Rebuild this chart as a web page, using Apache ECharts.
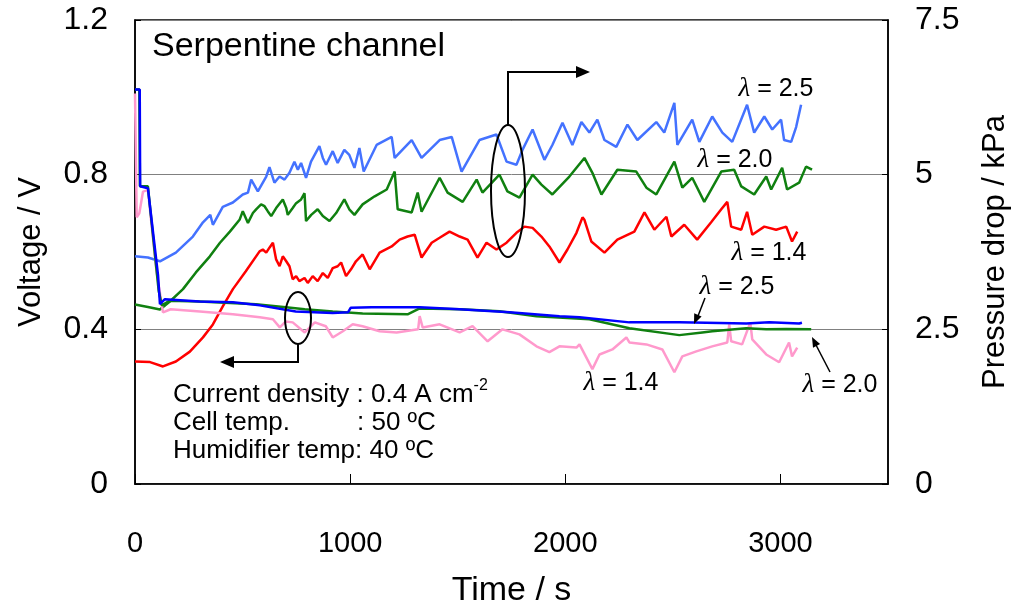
<!DOCTYPE html>
<html>
<head>
<meta charset="utf-8">
<script src="https://cdn.jsdelivr.net/npm/echarts@6/dist/echarts.min.js"></script>
<style>
  html, body { margin: 0; padding: 0; background: #fff; }
  #chart { width: 1019px; height: 613px; }
</style>
</head>
<body>
<div id="chart"></div>
<script>
// pressure drop, kPa (right axis)  [time s, value]
const bluePressure = [[0,3.68],[60,3.66],[116,3.60],[190,3.74],[269,4.00],[316,4.23],[350,4.35],[362,4.19],[408,4.48],[455,4.55],[501,4.68],[525,4.71],[540,4.92],[571,4.73],[610,4.97],[625,5.12],[648,4.87],[672,4.97],[695,4.92],[718,5.03],[741,5.21],[757,5.08],[772,5.19],[795,4.95],[818,5.21],[857,5.46],[873,5.27],[888,5.16],[919,5.38],[942,5.19],[973,5.40],[996,5.32],[1020,5.11],[1043,5.43],[1063,5.05],[1123,5.48],[1193,5.61],[1207,5.27],[1286,5.56],[1332,5.27],[1416,5.56],[1472,5.61],[1518,5.05],[1601,5.56],[1680,5.65],[1727,5.21],[1773,5.16],[1801,5.40],[1848,5.73],[1903,5.24],[1940,5.48],[1987,5.84],[2033,5.48],[2075,5.85],[2112,5.68],[2149,5.89],[2182,5.56],[2237,5.45],[2289,5.81],[2335,5.56],[2423,5.85],[2460,5.68],[2507,6.16],[2521,5.48],[2590,5.89],[2623,5.53],[2683,5.94],[2730,5.68],[2776,5.53],[2845,6.13],[2878,5.68],[2925,5.94],[2962,5.73],[3003,5.89],[3017,5.56],[3050,5.53],[3073,5.77],[3096,6.13]]
const greenPressure = [[0,2.90],[60,2.86],[116,2.82],[162,2.95],[223,3.15],[283,3.42],[348,3.68],[395,3.90],[441,4.08],[486,4.27],[501,4.41],[525,4.22],[548,4.38],[563,4.44],[586,4.52],[602,4.49],[617,4.41],[633,4.33],[656,4.46],[687,4.60],[703,4.46],[710,4.35],[733,4.46],[749,4.54],[772,4.60],[788,4.70],[795,4.25],[819,4.35],[849,4.44],[873,4.33],[904,4.25],[935,4.38],[973,4.60],[996,4.44],[1020,4.35],[1058,4.52],[1114,4.65],[1170,4.76],[1207,5.05],[1221,4.44],[1286,4.39],[1314,4.71],[1332,4.40],[1416,4.95],[1453,4.71],[1523,4.56],[1588,4.92],[1615,4.71],[1694,5.00],[1731,4.73],[1787,4.63],[1848,5.00],[1889,4.84],[1940,4.68],[2019,4.97],[2089,5.27],[2126,5.03],[2168,4.68],[2242,5.08],[2330,5.05],[2377,4.79],[2423,4.68],[2507,5.21],[2544,4.79],[2590,4.95],[2646,4.56],[2725,5.05],[2785,5.08],[2818,4.81],[2878,4.68],[2934,4.97],[2957,4.76],[3008,5.11],[3031,4.76],[3087,4.87],[3119,5.13],[3147,5.08]]
const redPressure = [[0,1.98],[70,1.97],[130,1.90],[190,1.98],[255,2.14],[316,2.37],[362,2.58],[408,2.87],[455,3.15],[515,3.44],[579,3.76],[594,3.79],[610,3.74],[625,3.82],[641,3.90],[656,3.63],[672,3.52],[687,3.68],[703,3.60],[718,3.52],[733,3.31],[749,3.36],[764,3.28],[788,3.33],[803,3.25],[826,3.36],[849,3.28],[873,3.41],[896,3.33],[919,3.49],[942,3.52],[958,3.58],[981,3.36],[1004,3.47],[1027,3.60],[1058,3.71],[1091,3.47],[1137,3.74],[1193,3.84],[1230,3.95],[1267,4.00],[1300,4.03],[1332,3.66],[1379,3.90],[1416,3.98],[1462,4.08],[1509,4.00],[1546,3.95],[1592,3.66],[1634,3.90],[1680,3.79],[1727,3.90],[1773,4.06],[1810,4.16],[1848,4.14],[1889,4.00],[1926,3.84],[1973,3.58],[2010,3.79],[2052,4.06],[2080,4.31],[2089,4.27],[2121,3.92],[2182,3.74],[2242,3.95],[2321,4.08],[2368,4.39],[2414,4.11],[2470,4.32],[2493,4.00],[2553,4.19],[2613,3.95],[2678,4.23],[2725,4.44],[2753,4.56],[2771,4.16],[2818,4.11],[2845,4.40],[2869,4.03],[2925,4.16],[2980,4.11],[3027,4.16],[3054,3.92],[3078,4.08]]

// cell voltage, V (left axis)
const blueVoltage = [[0,1.02],[22,1.02],[24,0.77],[60,0.765],[107,0.54],[116,0.465],[139,0.478],[300,0.472],[455,0.470],[580,0.462],[747,0.446],[919,0.442],[990,0.444],[1003,0.456],[1100,0.457],[1323,0.457],[1509,0.452],[1741,0.444],[1973,0.434],[2066,0.431],[2298,0.418],[2530,0.418],[2841,0.415],[2948,0.418],[3087,0.415],[3100,0.417]]
const greenVoltage = [[0,1.02],[20,1.02],[23,0.77],[60,0.77],[110,0.50],[125,0.462],[160,0.474],[300,0.472],[562,0.465],[701,0.457],[789,0.452],[919,0.446],[1058,0.441],[1267,0.439],[1323,0.454],[1509,0.452],[1694,0.447],[1866,0.434],[2112,0.426],[2298,0.403],[2530,0.385],[2637,0.392],[2683,0.395],[2841,0.403],[2934,0.400],[3027,0.401],[3143,0.400]]
const pinkVoltage = [[0,1.01],[5,1.01],[8,0.69],[20,0.70],[37,0.756],[60,0.76],[100,0.55],[130,0.444],[166,0.452],[302,0.446],[455,0.439],[580,0.431],[641,0.426],[673,0.405],[700,0.420],[733,0.418],[789,0.392],[836,0.418],[887,0.408],[919,0.379],[966,0.395],[1012,0.413],[1058,0.408],[1137,0.395],[1216,0.392],[1316,0.400],[1323,0.434],[1337,0.405],[1416,0.413],[1509,0.392],[1569,0.408],[1639,0.369],[1708,0.400],[1787,0.387],[1866,0.356],[1926,0.341],[1973,0.356],[2052,0.353],[2066,0.361],[2126,0.297],[2159,0.335],[2219,0.348],[2284,0.379],[2298,0.366],[2377,0.361],[2451,0.348],[2507,0.289],[2544,0.330],[2609,0.343],[2683,0.356],[2753,0.366],[2762,0.413],[2771,0.369],[2822,0.361],[2860,0.418],[2869,0.374],[2934,0.335],[2994,0.315],[3040,0.366],[3054,0.330],[3078,0.353]]

const sans = 'Liberation Sans, Arial, sans-serif'

function lambda(label, x, y) {
  return {
    type: 'text', x: x, y: y, z: 100,
    style: {
      text: '{l|λ}{n| = ' + label + '}',
      align: 'center', verticalAlign: 'middle',
      rich: {
        l: { fontFamily: 'Liberation Serif, serif', fontStyle: 'italic', fontSize: 27, fill: '#000' },
        n: { fontFamily: sans, fontSize: 25, fill: '#000' }
      }
    }
  }
}

function line(name, data, color, axis) {
  return {
    name: name,
    type: 'line',
    yAxisIndex: axis,
    data: data,
    showSymbol: false,
    symbol: 'none',
    lineStyle: { color: color, width: 2.5 },
    itemStyle: { color: color },
    animation: false
  }
}

const chart = echarts.init(document.getElementById('chart'))
chart.setOption({
  animation: false,
  grid: { left: 135, right: 130, top: 20, bottom: 128, show: true, borderColor: '#000', borderWidth: 1.5 },
  xAxis: {
    type: 'value', min: 0, max: 3500, interval: 1000,
    name: 'Time / s', nameLocation: 'middle', nameGap: 90,
    nameTextStyle: { fontFamily: sans, fontSize: 34, color: '#000' },
    axisLine: { lineStyle: { color: '#000', width: 1.5 } },
    axisTick: { inside: true, length: 10, lineStyle: { color: '#000' } },
    axisLabel: { showMaxLabel: false, fontFamily: sans, fontSize: 29, color: '#000', margin: 45,
      formatter: function (v) { return String(v) } },
    splitLine: { show: false }
  },
  yAxis: [
    {
      type: 'value', min: 0, max: 1.2, interval: 0.4,
      name: 'Voltage / V', nameLocation: 'middle', nameGap: 88,
      nameTextStyle: { fontFamily: sans, fontSize: 31, color: '#000' },
      axisLine: { show: true, lineStyle: { color: '#000', width: 1.5 } },
      axisTick: { inside: true, length: 6, lineStyle: { color: '#000' } },
      axisLabel: { fontFamily: sans, fontSize: 32, color: '#000', margin: 27 },
      splitLine: { show: true, lineStyle: { color: '#808080', width: 1 } }
    },
    {
      type: 'value', min: 0, max: 7.5, interval: 2.5, position: 'right',
      name: 'Pressure drop / kPa', nameLocation: 'middle', nameGap: 92,
      nameTextStyle: { fontFamily: sans, fontSize: 31, color: '#000' },
      axisLine: { show: true, lineStyle: { color: '#000', width: 1.5 } },
      axisTick: { inside: true, length: 6, lineStyle: { color: '#000' } },
      axisLabel: { fontFamily: sans, fontSize: 32, color: '#000', margin: 27 },
      splitLine: { show: false }
    }
  ],
  series: [
    line('dP 2.5', bluePressure, '#4472FF', 1),
    line('dP 2.0', greenPressure, '#108010', 1),
    line('dP 1.4', redPressure, '#FF0000', 1),
    line('V 1.4', pinkVoltage, '#FF99CC', 0),
    line('V 2.0', greenVoltage, '#108010', 0),
    line('V 2.5', blueVoltage, '#0000FF', 0)
  ],
  graphic: [
    { type: 'text', x: 152, y: 30, z: 100,
      style: { text: 'Serpentine channel', fontFamily: sans, fontSize: 34, fill: '#000' } },
    { type: 'text', x: 173, y: 378, z: 100,
      style: { text: '{n|Current density : 0.4 A cm}{s|-2}', fill: '#000',
        rich: { n: { fontFamily: sans, fontSize: 26, lineHeight: 30, verticalAlign: 'bottom' },
                s: { fontFamily: sans, fontSize: 16, lineHeight: 15, verticalAlign: 'top' } } } },
    { type: 'text', x: 173, y: 410, z: 100,
      style: { text: 'Cell temp.', fontFamily: sans, fontSize: 26, fill: '#000' } },
    { type: 'text', x: 357, y: 410, z: 100,
      style: { text: ': 50 ºC', fontFamily: sans, fontSize: 26, fill: '#000' } },
    { type: 'text', x: 173, y: 438, z: 100,
      style: { text: 'Humidifier temp: 40 ºC', fontFamily: sans, fontSize: 26, fill: '#000' } },
    lambda('2.5', 776, 89),
    lambda('2.0', 735, 160),
    lambda('1.4', 769, 253),
    lambda('2.5', 737, 287),
    lambda('1.4', 621, 383),
    lambda('2.0', 840, 385),
    { type: 'ellipse', z: 100, shape: { cx: 508, cy: 191, rx: 17, ry: 66 },
      style: { fill: 'none', stroke: '#000', lineWidth: 2 } },
    { type: 'ellipse', z: 100, shape: { cx: 298, cy: 318, rx: 13, ry: 26 },
      style: { fill: 'none', stroke: '#000', lineWidth: 2 } },
    { type: 'polyline', z: 100, shape: { points: [[508, 125], [508, 72], [578, 72]] },
      style: { fill: 'none', stroke: '#000', lineWidth: 2 } },
    { type: 'polygon', z: 100, shape: { points: [[590, 72], [576, 66], [576, 78]] },
      style: { fill: '#000' } },
    { type: 'polyline', z: 100, shape: { points: [[298, 344], [298, 362], [232, 362]] },
      style: { fill: 'none', stroke: '#000', lineWidth: 2 } },
    { type: 'polygon', z: 100, shape: { points: [[220, 362], [234, 356], [234, 368]] },
      style: { fill: '#000' } },
    { type: 'line', z: 100, shape: { x1: 705, y1: 298, x2: 698, y2: 316 },
      style: { stroke: '#000', lineWidth: 1.5 } },
    { type: 'polygon', z: 100, shape: { points: [[694, 324], [701.6, 316.4], [694.2, 313.2]] },
      style: { fill: '#000' } },
    { type: 'line', z: 100, shape: { x1: 830, y1: 372, x2: 816, y2: 345 },
      style: { stroke: '#000', lineWidth: 1.5 } },
    { type: 'polygon', z: 100, shape: { points: [[812, 337], [820.1, 344.1], [813.0, 347.7]] },
      style: { fill: '#000' } }
  ]
})
</script>
</body>
</html>
